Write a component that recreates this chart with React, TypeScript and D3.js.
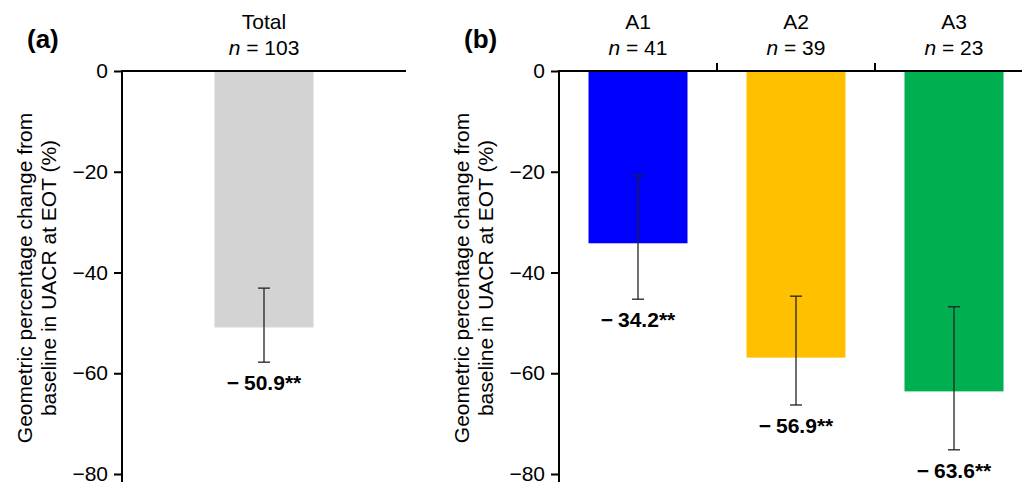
import React, { useRef, useEffect } from 'react';
import * as d3 from 'd3';

// panel (a): all patients
const totalCats = ['Total'];
const totalN = [103];
const totalMeans = [-50.9];
const totalErrHigh = [-43.1];
const totalErrLow = [-57.8];
const totalColors = ['#d3d3d3'];

// panel (b): subgroups
const subCats = ['A1', 'A2', 'A3'];
const subN = [41, 39, 23];
const subMeans = [-34.2, -56.9, -63.6];
const subErrHigh = [-20.8, -44.7, -46.8];
const subErrLow = [-45.3, -66.3, -75.2];
const subColors = ['#0000ff', '#ffc000', '#00b050'];

const yTicks = [0, -20, -40, -60, -80];

const FONT = '"Liberation Sans", Arial, sans-serif';

const App = () => {
    const svgRef = useRef<SVGSVGElement>(null);

    useEffect(() => {
        const svg = d3.select(svgRef.current);
        svg.selectAll('*').remove();

        const y = d3.scaleLinear().domain([0, -80]).range([71, 474]);
        const barW = 99;

        const drawPanel = (opts: any) => {
            const { letter, cats, ns, means, hi, lo, colors, x0, x1 } = opts;
            const g = svg.append('g');

            const x = d3.scaleBand().domain(cats).range([x0, x1]).padding(0);
            const cx = (d: any) => x(d)! + x.bandwidth() / 2;

            // bars
            g.selectAll('.bar')
                .data(cats)
                .join('rect')
                .attr('x', (d: any) => cx(d) - barW / 2)
                .attr('y', y(0))
                .attr('width', barW)
                .attr('height', (d: any, i: number) => y(means[i]) - y(0))
                .attr('fill', (d: any, i: number) => colors[i]);

            // error bars
            const eb = g.selectAll('.err')
                .data(cats)
                .join('g')
                .attr('stroke', '#222')
                .attr('stroke-width', 1.3);
            eb.append('line')
                .attr('x1', cx)
                .attr('x2', cx)
                .attr('y1', (d: any, i: number) => y(hi[i]))
                .attr('y2', (d: any, i: number) => y(lo[i]));
            [hi, lo].forEach(arr => {
                eb.append('line')
                    .attr('x1', (d: any) => cx(d) - 6)
                    .attr('x2', (d: any) => cx(d) + 6)
                    .attr('y1', (d: any, i: number) => y(arr[i]))
                    .attr('y2', (d: any, i: number) => y(arr[i]));
            });

            // value labels
            const lbl = g.selectAll('.lbl')
                .data(cats)
                .join('text')
                .attr('x', cx)
                .attr('y', (d: any, i: number) => y(lo[i]) + 28)
                .attr('text-anchor', 'middle')
                .attr('font-family', FONT)
                .attr('font-size', 21)
                .attr('font-weight', 'bold');
            lbl.append('tspan').text('\u2212');
            lbl.append('tspan').attr('dx', 5).text((d: any, i: number) => `${Math.abs(means[i]).toFixed(1)}**`);

            // category titles
            const t = g.selectAll('.ttl')
                .data(cats)
                .join('g')
                .attr('font-family', FONT)
                .attr('font-size', 21)
                .attr('text-anchor', 'middle');
            t.append('text')
                .attr('x', cx)
                .attr('y', 29)
                .text((d: any) => d);
            const nt = t.append('text')
                .attr('x', cx)
                .attr('y', 55);
            nt.append('tspan').attr('font-style', 'italic').text('n');
            nt.append('tspan').text((d: any, i: number) => ` = ${ns[i]}`);

            // top axis (zero line) with ticks at category boundaries
            g.append('line')
                .attr('x1', x0).attr('x2', x1)
                .attr('y1', y(0)).attr('y2', y(0))
                .attr('stroke', '#000').attr('stroke-width', 2);
            g.selectAll('.ctick')
                .data(cats.slice(1))
                .join('line')
                .attr('x1', (d: any) => x(d)!)
                .attr('x2', (d: any) => x(d)!)
                .attr('y1', y(0) - 8)
                .attr('y2', y(0))
                .attr('stroke', '#000').attr('stroke-width', 2);

            // y axis
            const ax = g.append('g')
                .attr('transform', `translate(${x0},0)`)
                .call(d3.axisLeft(y).tickValues(yTicks).tickSize(8).tickPadding(6));
            ax.select('.domain').remove();
            ax.selectAll('line').attr('stroke-width', 2);
            ax.selectAll('text')
                .attr('font-family', FONT)
                .attr('font-size', 21)
                .attr('fill', '#000');
            g.append('line')
                .attr('x1', x0).attr('x2', x0)
                .attr('y1', y(0) - 1).attr('y2', y(-82))
                .attr('stroke', '#000').attr('stroke-width', 2);

            // y axis label
            const yl = g.append('text')
                .attr('transform', `translate(${x0 - 90},278) rotate(-90)`)
                .attr('text-anchor', 'middle')
                .attr('font-family', FONT)
                .attr('font-size', 21);
            yl.append('tspan').attr('x', 0).attr('y', 0).text('Geometric percentage change from');
            yl.append('tspan').attr('x', 0).attr('y', 24).text('baseline in UACR at EOT (%)');

            // panel letter
            g.append('text')
                .attr('x', x0 - 95)
                .attr('y', 48)
                .attr('font-family', FONT)
                .attr('font-size', 26)
                .attr('font-weight', 'bold')
                .text(letter);
        };

        drawPanel({
            letter: '(a)', cats: totalCats, ns: totalN, means: totalMeans,
            hi: totalErrHigh, lo: totalErrLow, colors: totalColors, x0: 122, x1: 406,
        });
        drawPanel({
            letter: '(b)', cats: subCats, ns: subN, means: subMeans,
            hi: subErrHigh, lo: subErrLow, colors: subColors, x0: 559, x1: 1033,
        });
    }, []);

    return (
        <svg ref={svgRef} width="1022" height="482"
            style={{ position: 'absolute', left: 0, top: 0, background: '#fff' }}></svg>
    );
};

export default App;
